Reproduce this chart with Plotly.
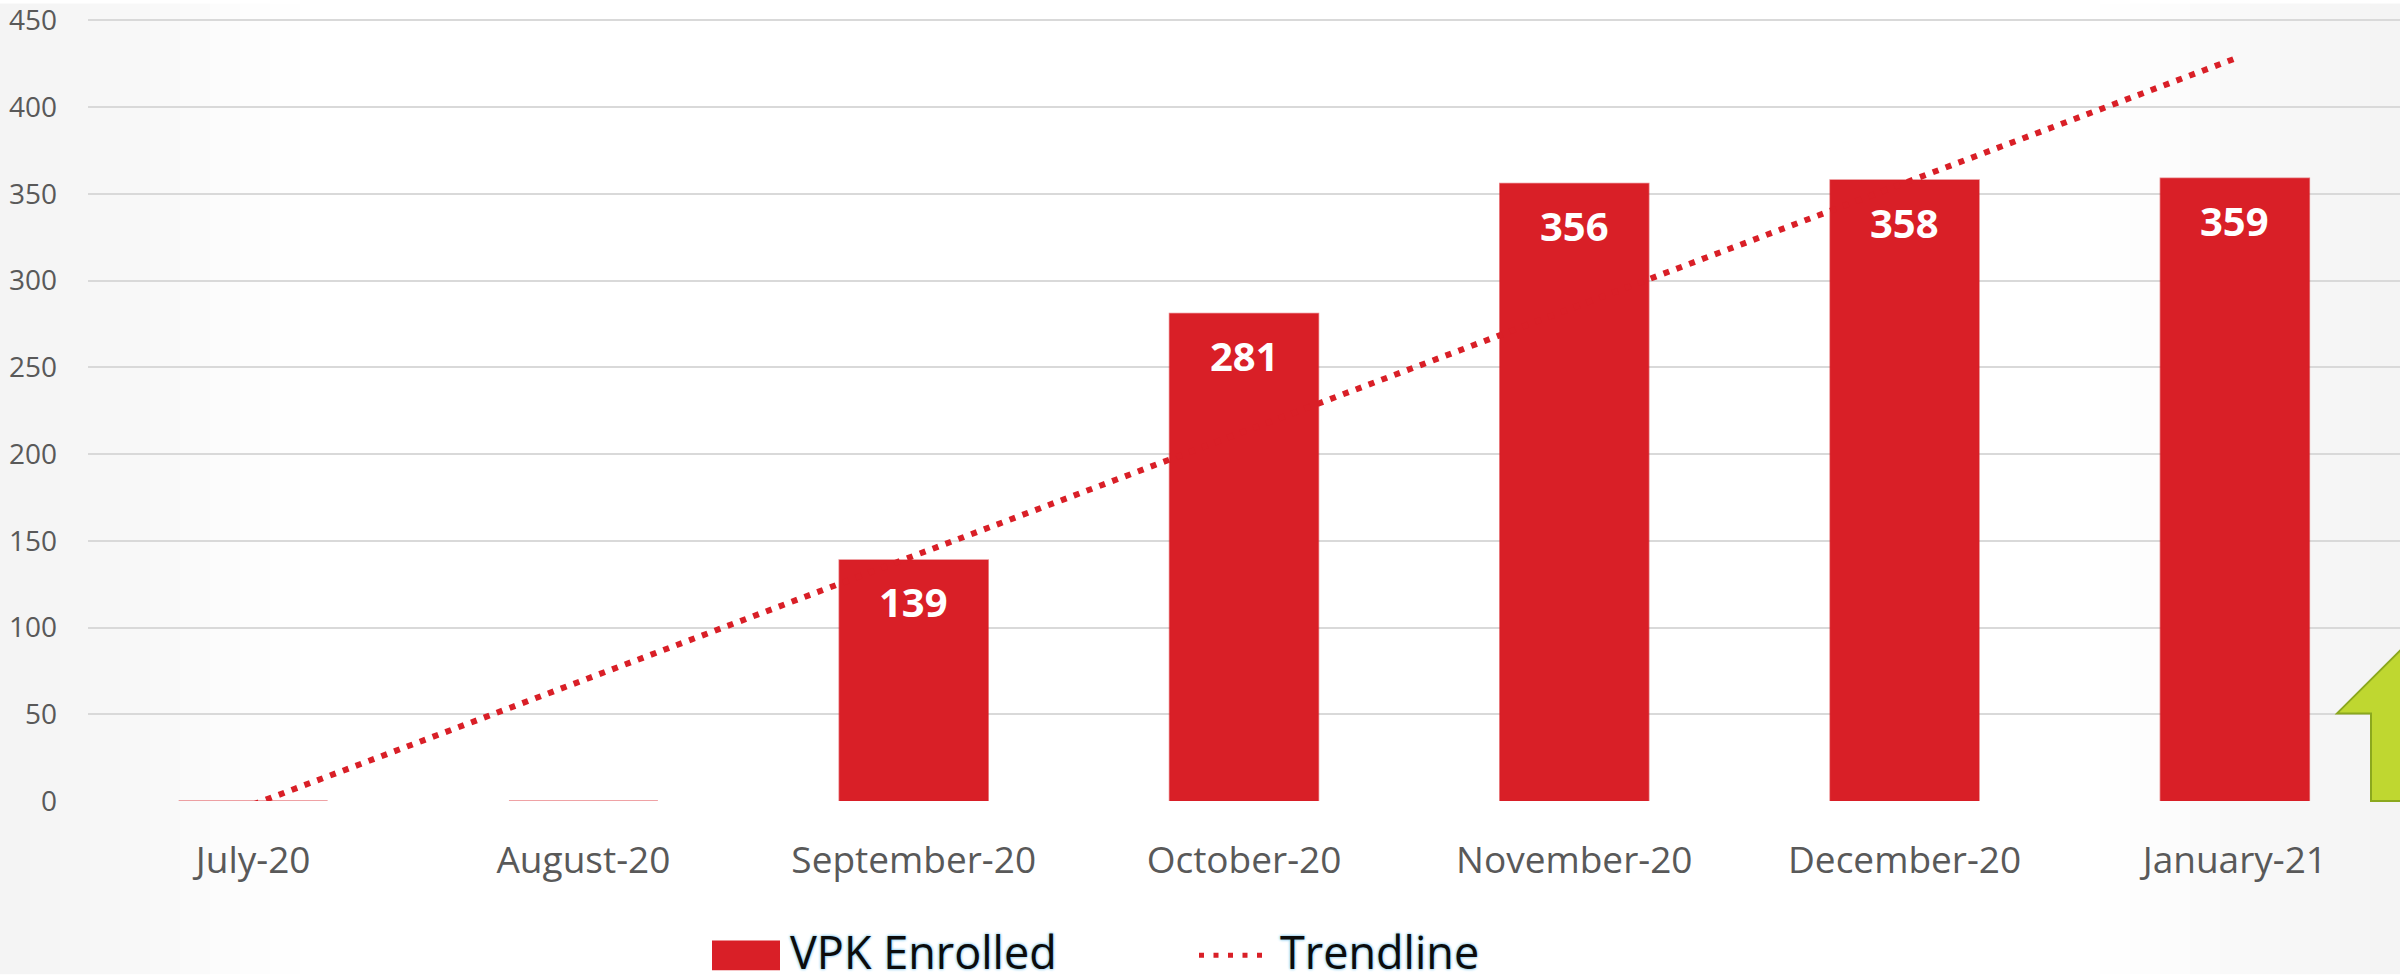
import plotly.graph_objects as go

# ---- data ----
categories = ["July-20", "August-20", "September-20", "October-20",
              "November-20", "December-20", "January-21"]
vpk_enrolled = [0, 0, 139, 281, 356, 358, 359]
trend_x = ["July-20", "January-21"]
trend_y = [-2, 428]          # linear trendline end values
y_ticks = [0, 50, 100, 150, 200, 250, 300, 350, 400, 450]

RED = "#D91F27"
W, H = 2400, 975
ML, MR, MT, MB = 88, 0, 13.5, 174
PW, PH = W - ML - MR, H - MT - MB


def px(x):
    return (x - ML) / PW


def py(y):
    return (H - MB - y) / PH


fig = go.Figure()
fig.add_trace(go.Bar(
    x=categories, y=vpk_enrolled, name="VPK Enrolled",
    marker=dict(color=RED, line=dict(color="rgba(217,31,39,0.55)", width=1.5)),
    showlegend=False, hoverinfo="x+y",
))
fig.add_trace(go.Scatter(
    x=trend_x, y=trend_y, mode="lines", name="Trendline",
    line=dict(color=RED, width=6, dash="6px,7.7px"),
    showlegend=False, hoverinfo="skip",
))

annotations = []
for c, v in zip(categories, vpk_enrolled):
    if v > 0:
        annotations.append(dict(
            x=c, y=v, xref="x", yref="y", text=f"<b>{v}</b>", showarrow=False,
            yshift=-42, yanchor="middle",
            font=dict(family="Open Sans", size=40, color="white"),
        ))

# custom legend
legend_font = dict(family="Open Sans", size=45, color="#0c0c0c",
                   shadow="0px 0px 3px #8fcdee, 0px 0px 3px #8fcdee")
annotations.append(dict(x=px(788), y=py(952), xref="paper", yref="paper",
                        text="VPK Enrolled", showarrow=False, xanchor="left",
                        yanchor="middle", font=legend_font))
annotations.append(dict(x=px(1278), y=py(952), xref="paper", yref="paper",
                        text="Trendline", showarrow=False, xanchor="left",
                        yanchor="middle", font=legend_font))

shapes = []
# soft grey vignette at the left and right edges (background decoration)
n_strips = 10
for i in range(n_strips):
    op = 0.045 * (1 - i / n_strips)
    x0l, x1l = i * 30, (i + 1) * 30
    shapes.append(dict(type="rect", xref="paper", yref="paper", layer="below",
                       x0=px(x0l), x1=px(x1l), y0=py(H), y1=py(0),
                       fillcolor=f"rgba(0,0,0,{op:.4f})", line=dict(width=0)))
    shapes.append(dict(type="rect", xref="paper", yref="paper", layer="below",
                       x0=px(W - x1l), x1=px(W - x0l), y0=py(H), y1=py(0),
                       fillcolor=f"rgba(0,0,0,{op:.4f})", line=dict(width=0)))

shapes += [
    dict(type="rect", xref="paper", yref="paper",
         x0=px(712), x1=px(780), y0=py(971), y1=py(941),
         fillcolor=RED, line=dict(width=0)),
    dict(type="line", xref="paper", yref="paper",
         x0=px(1199), x1=px(1262), y0=py(956), y1=py(956),
         line=dict(color=RED, width=5, dash="5px,9.5px")),
    # green arrow decoration at the right edge
    dict(type="path", xref="paper", yref="paper",
         path=(f"M{px(2371)},{py(801)} L{px(2371)},{py(713)} L{px(2337)},{py(713)} "
               f"L{px(2440)},{py(610)} L{px(2543)},{py(713)} L{px(2509)},{py(713)} "
               f"L{px(2509)},{py(801)} Z"),
         fillcolor="#BFD730", line=dict(color="#8BA81E", width=2), layer="above"),
]

fig.update_layout(
    width=W, height=H,
    margin=dict(l=ML, r=MR, t=MT, b=MB, pad=0),
    paper_bgcolor="#ffffff", plot_bgcolor="rgba(0,0,0,0)",
    bargap=0.549,
    font=dict(family="Open Sans", color="#595959"),
    xaxis=dict(type="category", categoryorder="array", categoryarray=categories,
               showgrid=False, zeroline=False, showline=False, ticks="",
               tickfont=dict(size=37, color="#595959"), ticklabelstandoff=34,
               fixedrange=True),
    yaxis=dict(range=[0, 452], tickvals=y_ticks, showgrid=True,
               gridcolor="#d9d9d9", gridwidth=2, zeroline=False, showline=False,
               ticks="", tickfont=dict(size=28, color="#595959"),
               ticklabelstandoff=30, ticklabeloverflow="allow", fixedrange=True),
    annotations=annotations,
    shapes=shapes,
    showlegend=False,
)

fig.write_html("out.html", config={"displayModeBar": False},
               post_script="document.body.style.margin='0';document.body.style.overflow='hidden';")
